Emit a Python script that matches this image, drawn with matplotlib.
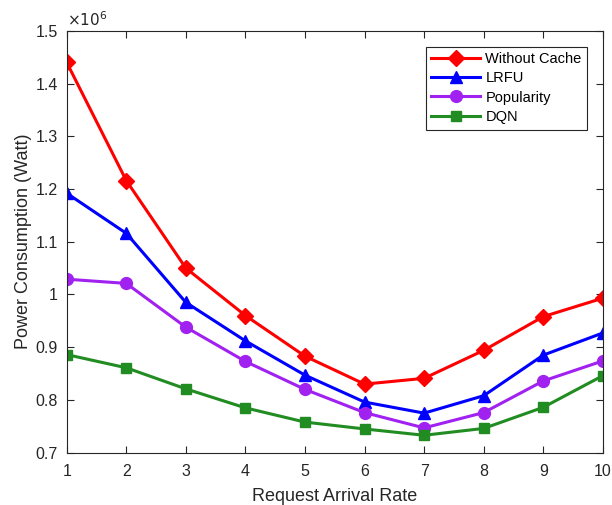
import matplotlib
matplotlib.use("Agg")
import matplotlib.pyplot as plt

plt.rcParams['font.family'] = ['Liberation Sans', 'DejaVu Sans']

rates = [1, 2, 3, 4, 5, 6, 7, 8, 9, 10]
without_cache = [1.440, 1.216, 1.050, 0.960, 0.883, 0.830, 0.841, 0.894, 0.958, 0.993]
lrfu = [1.192, 1.116, 0.985, 0.912, 0.847, 0.796, 0.775, 0.808, 0.885, 0.927]
popularity = [1.029, 1.021, 0.938, 0.873, 0.820, 0.776, 0.747, 0.776, 0.836, 0.874]
dqn = [0.886, 0.861, 0.821, 0.785, 0.758, 0.745, 0.733, 0.746, 0.786, 0.846]
scale = 1e6

series = [
    ("Without Cache", without_cache, (1, 0, 0), 'D', 8),
    ("LRFU", lrfu, (0, 0, 1), '^', 9),
    ("Popularity", popularity, (0.63, 0.13, 0.94), 'o', 8.5),
    ("DQN", dqn, (0.13, 0.55, 0.13), 's', 7),
]

fig = plt.figure(figsize=(6.12, 5.05), dpi=100)
ax = fig.add_axes([0.109, 0.1036, 0.876, 0.8354])
for name, vals, col, mk, ms in series:
    ax.plot(rates, [v * scale for v in vals], color=col, marker=mk, markersize=ms,
            linewidth=2.2, label=name)

ax.set_xlim(1, 10)
ax.set_ylim(0.7e6, 1.5e6)
ax.set_xticks(rates)
yt = [0.7, 0.8, 0.9, 1.0, 1.1, 1.2, 1.3, 1.4, 1.5]
ax.set_yticks([v * scale for v in yt])
ax.set_yticklabels(['0.7', '0.8', '0.9', '1', '1.1', '1.2', '1.3', '1.4', '1.5'])
ax.tick_params(direction='in', top=True, right=True, labelsize=11.5, length=5,
               width=0.8, colors='#262626')
ax.tick_params(axis='x', pad=8.5)
ax.tick_params(axis='y', pad=6.5)
for sp in ax.spines.values():
    sp.set_color('#262626')
    sp.set_linewidth(0.8)
ax.set_xlabel('Request Arrival Rate', fontsize=13, color='#262626', labelpad=6)
ax.set_ylabel('Power Consumption (Watt)', fontsize=13, color='#262626', labelpad=2.5)
ax.text(0.0, 1.005, r'$\times10^{6}$', transform=ax.transAxes, fontsize=11,
        ha='left', va='bottom', color='#262626')

leg = ax.legend(loc='upper right', bbox_to_anchor=(0.985, 0.98), fontsize=10.5,
                fancybox=False, edgecolor='#262626', framealpha=1,
                handlelength=3.3, borderpad=0.4, labelspacing=0.35,
                handletextpad=0.4)
leg.get_frame().set_linewidth(0.8)

fig.savefig('out.png', dpi=100)
